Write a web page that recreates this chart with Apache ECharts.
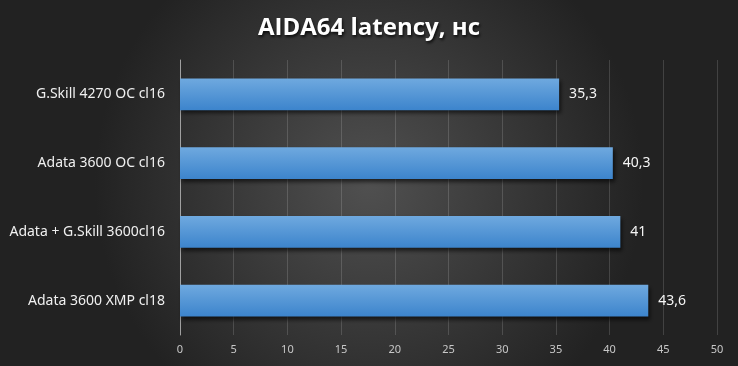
<!DOCTYPE html>
<html><head><meta charset="utf-8">
<script src="https://cdn.jsdelivr.net/npm/echarts@6/dist/echarts.min.js"></script>
<style>html,body{margin:0;padding:0;background:#2a2a2a}#c{width:738px;height:366px}</style>
</head><body><div id="c"></div>
<script>
const categories = ['Adata 3600 XMP cl18', 'Adata + G.Skill 3600cl16', 'Adata 3600 OC cl16', 'G.Skill 4270 OC cl16'];
const values = [43.6, 41, 40.3, 35.3];
const xTicks = [0, 5, 10, 15, 20, 25, 30, 35, 40, 45, 50];

const chart = echarts.init(document.getElementById('c'), null, {renderer: 'canvas'});
chart.setOption({
  backgroundColor: {
    type: 'radial', x: 0.5, y: 0.5, r: 0.75,
    colorStops: [{offset: 0, color: '#505050'}, {offset: 1, color: '#222222'}]
  },
  title: {
    text: 'AIDA64 latency, нс', left: 'center', top: 11,
    textStyle: {color: '#ffffff', fontSize: 24, fontWeight: 'bold', fontFamily: 'Open Sans',
      textShadowColor: 'rgba(0,0,0,0.8)', textShadowBlur: 3, textShadowOffsetX: 1, textShadowOffsetY: 2}
  },
  grid: {left: 180, right: 21, top: 60, bottom: 31, containLabel: false},
  xAxis: {
    type: 'value', min: 0, max: 50, interval: 5,
    axisLine: {show: false}, axisTick: {show: false},
    splitLine: {show: true, lineStyle: {color: 'rgba(255,255,255,0.15)', width: 1}},
    axisLabel: {color: '#c8c8c8', fontSize: 11, fontFamily: 'Noto Sans', margin: 9,
      formatter: v => xTicks.includes(v) ? String(v) : ''}
  },
  yAxis: {
    type: 'category', data: categories,
    axisLine: {show: true, lineStyle: {color: '#a0a0a0', width: 1}},
    axisTick: {show: false},
    axisLabel: {color: '#f0f0f0', fontSize: 14, fontFamily: 'Noto Sans', margin: 15}
  },
  series: [{
    type: 'bar', data: values, barWidth: '46.5%',
    itemStyle: {
      color: {type: 'linear', x: 0, y: 0, x2: 0, y2: 1,
        colorStops: [{offset: 0, color: '#6fa9df'}, {offset: 1, color: '#3c84cc'}]},
      shadowColor: 'rgba(0,0,0,0.6)', shadowBlur: 4, shadowOffsetX: 2, shadowOffsetY: 3
    },
    label: {show: true, position: 'right', distance: 10, color: '#f5f5f5', fontSize: 14, fontFamily: 'Noto Sans',
      formatter: p => String(p.value).replace('.', ',')}
  }]
});
</script></body></html>
